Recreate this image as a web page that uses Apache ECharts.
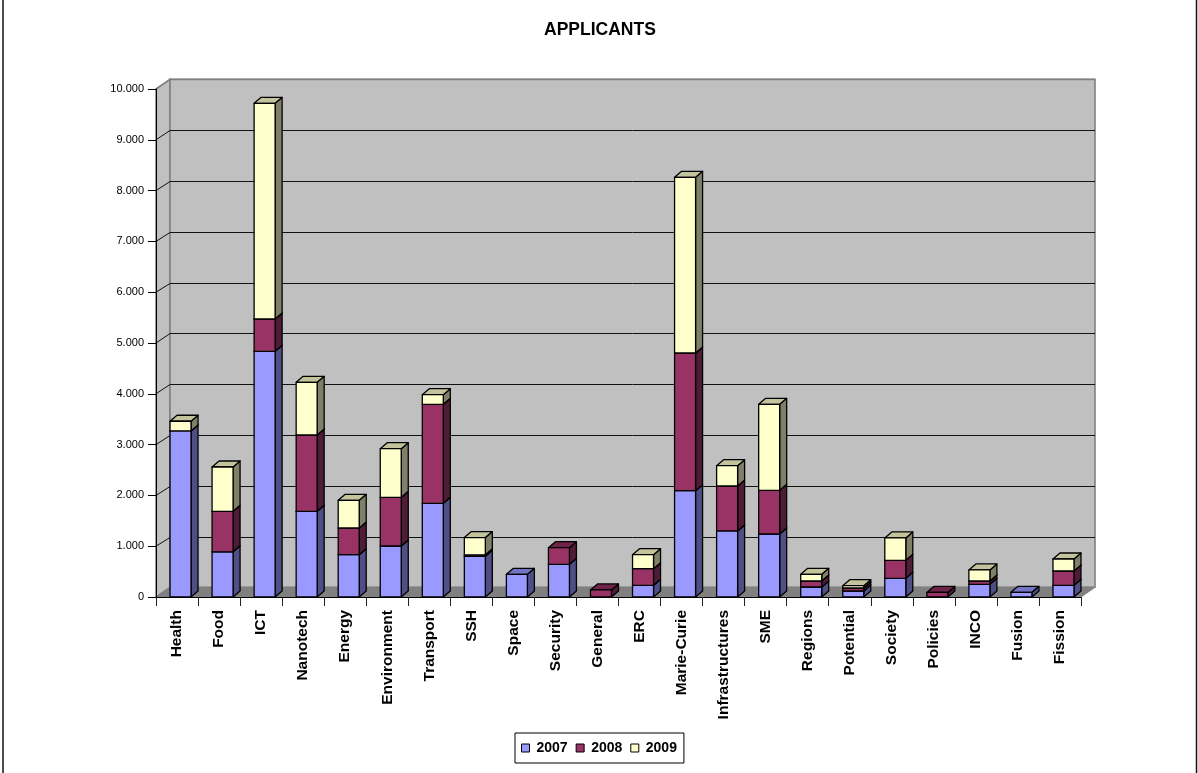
<!DOCTYPE html>
<html>
<head>
<meta charset="utf-8">
<style>html,body{margin:0;padding:0;background:#fff}#c{width:1198px;height:773px}</style>
<script src="https://cdn.jsdelivr.net/npm/echarts@6/dist/echarts.min.js"></script>
</head>
<body>
<div id="c"></div>
<script>
const categories = ['Health','Food','ICT','Nanotech','Energy','Environment','Transport','SSH','Space','Security','General','ERC','Marie-Curie','Infrastructures','SME','Regions','Potential','Society','Policies','INCO','Fusion','Fission'];
const values2007 = [3270,890,4837,1687,833,1004,1844,800,447,643,0,230,2093,1300,1240,197,118,368,0,250,92,230];
const values2008 = [0,797,635,1502,525,959,1949,30,0,328,140,327,2710,885,860,118,59,354,90,65,0,282];
const values2009 = [190,872,4246,1037,545,957,190,340,0,0,0,276,3459,400,1693,132,45,440,0,217,0,236];
const yTicks = [0,1000,2000,3000,4000,5000,6000,7000,8000,9000,10000];

const FONT = '"Liberation Sans", Arial, sans-serif';
const WALL_DX = 14, WALL_DY = 9.7, BAR_W = 21, BAR_DX = 7, BAR_DY = 6;

function stackOf(rows, n) {
  return categories.map((_, i) => {
    let base = 0;
    for (let k = 0; k < n; k++) base += rows[k][i];
    return [i, base, base + rows[n][i]];
  });
}
const rows = [values2007, values2008, values2009];

function barRenderer(front, side, top) {
  return function (params, api) {
    const i = api.value(0), lo = api.value(1), hi = api.value(2);
    if (hi <= lo) return null;
    const a = api.coord([i, lo]), b = api.coord([i, hi]);
    const x0 = a[0] - 7, x1 = x0 + BAR_W, y0 = a[1], y1 = b[1];
    const st = (fill) => ({ fill: fill, stroke: '#000', lineWidth: 1.3, lineJoin: 'round' });
    return { type: 'group', children: [
      { type: 'polygon', shape: { points: [[x1,y0],[x1+BAR_DX,y0-BAR_DY],[x1+BAR_DX,y1-BAR_DY],[x1,y1]] }, style: st(side) },
      { type: 'polygon', shape: { points: [[x0,y1],[x1,y1],[x1+BAR_DX,y1-BAR_DY],[x0+BAR_DX,y1-BAR_DY]] }, style: st(top) },
      { type: 'rect', shape: { x: x0, y: y1, width: BAR_W, height: y0 - y1 }, style: st(front) }
    ]};
  };
}

function wallRenderer(params, api) {
  const c = params.coordSys;
  const l = c.x, r = c.x + c.width, t = c.y, b = c.y + c.height;
  const wall = { fill: '#C0C0C0', stroke: '#808080', lineWidth: 1.6 };
  return { type: 'group', children: [
    { type: 'polygon', shape: { points: [[l,b],[l+WALL_DX,b-WALL_DY],[l+WALL_DX,t-WALL_DY],[l,t]] }, style: wall },
    { type: 'polygon', shape: { points: [[l+WALL_DX,b-WALL_DY],[r+WALL_DX,b-WALL_DY],[r+WALL_DX,t-WALL_DY],[l+WALL_DX,t-WALL_DY]] }, style: wall },
    { type: 'polygon', shape: { points: [[l,b],[r,b],[r+WALL_DX,b-WALL_DY],[l+WALL_DX,b-WALL_DY]] }, style: { fill: '#808080', stroke: '#808080', lineWidth: 1 } }
  ]};
}

function gridRenderer(params, api) {
  const v = api.value(0);
  if (v === 0) return null;
  const c = params.coordSys;
  const y = api.coord([0, v])[1];
  const yBack = Math.round(y - WALL_DY) + 0.5;
  const top = v === 10000;
  const s = { stroke: top ? '#808080' : '#111', lineWidth: top ? 1.6 : 1, fill: null };
  return { type: 'group', children: [
    { type: 'line', shape: { x1: c.x, y1: y, x2: c.x + WALL_DX, y2: yBack }, style: { stroke: top ? '#808080' : '#111', lineWidth: 1 } },
    { type: 'line', shape: { x1: c.x + WALL_DX, y1: yBack, x2: c.x + c.width + WALL_DX, y2: yBack }, style: s }
  ]};
}

const chart = echarts.init(document.getElementById('c'), null, { renderer: 'canvas' });
chart.setOption({
  animation: false,
  backgroundColor: '#fff',
  title: {
    text: 'APPLICANTS', left: 539, top: 16,
    textStyle: { fontFamily: FONT, fontSize: 17.5, fontWeight: 'bold', color: '#000' }
  },
  legend: {
    data: ['2007','2008','2009'],
    left: 515, top: 733, orient: 'horizontal', selectedMode: false,
    backgroundColor: '#fff', borderColor: '#000', borderWidth: 1,
    padding: [8, 7, 8, 6], itemWidth: 8, itemHeight: 8, itemGap: 8,
    icon: 'rect',
    itemStyle: { borderColor: '#000', borderWidth: 1 },
    textStyle: { fontFamily: FONT, fontSize: 14, fontWeight: 'bold', color: '#000', padding: [0,0,0,2] }
  },
  grid: { left: 156, right: 117, top: 89, bottom: 176, containLabel: false },
  xAxis: {
    type: 'category', data: categories, z: 3,
    axisLine: { lineStyle: { color: '#000', width: 1 } },
    axisTick: { show: true, length: 9, alignWithLabel: false, lineStyle: { color: '#222' } },
    axisLabel: { interval: 0, rotate: 90, margin: 13, fontFamily: FONT, fontSize: 15.5, fontWeight: 'bold', color: '#000' }
  },
  yAxis: {
    type: 'value', min: 0, max: 10000, interval: 1000, z: 3,
    splitLine: { show: false },
    axisLine: { show: true, lineStyle: { color: '#000', width: 1 } },
    axisTick: { show: true, length: 8, lineStyle: { color: '#000' } },
    axisLabel: { margin: 12, fontFamily: FONT, fontSize: 11, color: '#000',
      formatter: v => String(v).replace(/\B(?=(\d{3})+$)/g, '.') }
  },
  series: [
    { type: 'custom', name: 'walls', z: 1, silent: true, clip: false, coordinateSystem: 'cartesian2d',
      data: [[0, 0]], renderItem: wallRenderer },
    { type: 'custom', name: 'gridlines', z: 1, silent: true, clip: false, coordinateSystem: 'cartesian2d',
      data: yTicks.map(v => [v]), encode: { y: 0 }, renderItem: gridRenderer },
    { type: 'custom', name: '2007', z: 2, clip: false, itemStyle: { color: '#9999FF' },
      encode: { x: 0, y: 2 }, data: stackOf(rows, 0), renderItem: barRenderer('#9999FF', '#4F4F85', '#7474C4') },
    { type: 'custom', name: '2008', z: 2, clip: false, itemStyle: { color: '#993366' },
      encode: { x: 0, y: 2 }, data: stackOf(rows, 1), renderItem: barRenderer('#993366', '#4F1C38', '#6E2448') },
    { type: 'custom', name: '2009', z: 2, clip: false, itemStyle: { color: '#FFFFCC' },
      encode: { x: 0, y: 2 }, data: stackOf(rows, 2), renderItem: barRenderer('#FFFFCC', '#808068', '#C4C49C') }
  ],
  graphic: [
    { type: 'line', silent: true, shape: { x1: 3, y1: 0, x2: 3, y2: 773 }, style: { stroke: '#111', lineWidth: 1.5 } },
    { type: 'line', silent: true, shape: { x1: 1196.5, y1: 0, x2: 1196.5, y2: 773 }, style: { stroke: '#111', lineWidth: 1.5 } }
  ]
});
</script>
</body>
</html>
